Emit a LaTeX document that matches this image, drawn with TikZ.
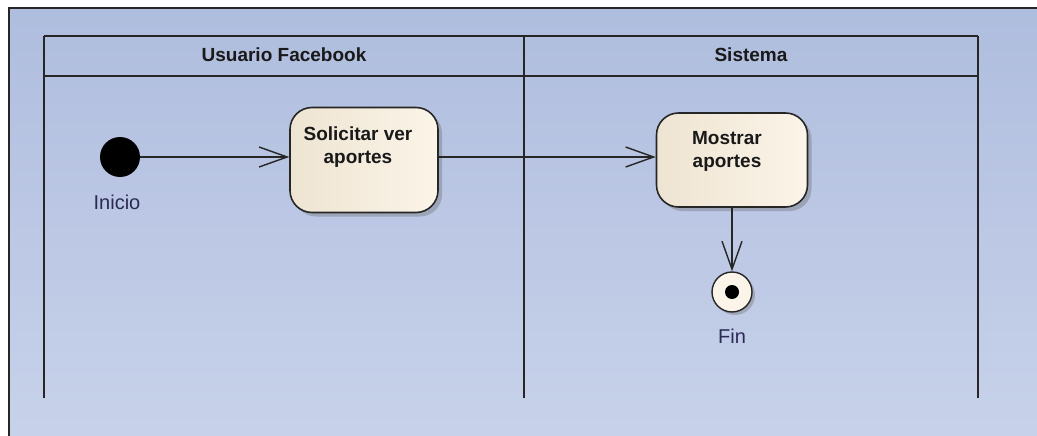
\documentclass[tikz,border=0pt]{standalone}
\usepackage{fontspec}
\setmainfont{Liberation Sans}
\usetikzlibrary{positioning, arrows.meta, shadows, calc}
\definecolor{bgtop}{HTML}{AFBDDE}
\definecolor{bgbot}{HTML}{C8D2EA}
\definecolor{actleft}{HTML}{EEE4D2}
\definecolor{actright}{HTML}{FBF4E8}
\definecolor{lblcol}{HTML}{2A2A55}

\begin{document}
\begin{tikzpicture}[x=1pt, y=-1pt,
  lane/.style={line width=1.6pt, black!85},
  lanetitle/.style={font=\fontsize{19}{22}\selectfont\bfseries, text=black!90},
  action/.style={draw=black!85, line width=1.6pt, rounded corners=22pt,
    left color=actleft, right color=actright, minimum width=148pt, minimum height=105pt,
    drop shadow={shadow xshift=4pt, shadow yshift=-4pt, fill=black!60, opacity=.35}},
  acttext/.style={font=\fontsize{19}{23}\selectfont\bfseries, align=center, inner sep=0pt, text=black!90},
  statelbl/.style={font=\fontsize{20}{22}\selectfont, inner sep=0pt, text=lblcol},
  flow/.style={line width=1.4pt, black!85, -{Straight Barb[length=28pt, width=20pt, line width=1.4pt]}}
]
\useasboundingbox (0,0) rectangle (1037,436);
\fill[white] (0,0) rectangle (1037,436);
% frame
\fill[top color=bgtop, bottom color=bgbot] (9,8) rectangle (1045,445);
\draw[line width=1.3pt, black!85] (9,445) -- (9,8) -- (1045,8);

% swimlanes
\draw[lane] (44,36) -- (978,36);
\draw[lane] (44,76) -- (978,76);
\foreach \xl in {44, 524, 978}
  \draw[lane] (\xl,36) -- (\xl,398);
\node[lanetitle] (usuario) at (284,55) {Usuario Facebook};
\node[lanetitle] (sistema) at (751,55) {Sistema};

% nodes
\node[circle, fill=black, minimum size=40pt, inner sep=0pt] (inicio) at (120,157) {};
\node[statelbl, below=18pt of inicio, xshift=-3pt] (iniciolbl) {Inicio};

\node[action] (solicitar) at (364,160) {};
\node[acttext, below=20pt of solicitar.north, xshift=-6pt] (solicitartxt) {Solicitar ver\\aportes};

\node[action, minimum width=151pt, minimum height=94pt] (mostrar) at (732,160) {};
\node[acttext, below=19pt of mostrar.north, xshift=-5pt] (mostrartxt) {Mostrar\\aportes};

\node[circle, draw=black!85, line width=1.4pt, fill=actright, minimum size=40pt, inner sep=0pt,
  drop shadow={shadow xshift=3pt, shadow yshift=-3pt, fill=black!60, opacity=.35}] (fin) at (732,292) {};
\fill[black] (fin) circle (7pt);
\node[statelbl, below=16pt of fin] (finlbl) {Fin};

% flows
\draw[flow] (inicio) -- (inicio -| solicitar.west);
\draw[flow] (solicitar.east |- inicio) -- (inicio -| mostrar.west);
\draw[flow] (mostrar.south) -- (fin.north);
\end{tikzpicture}
\end{document}
